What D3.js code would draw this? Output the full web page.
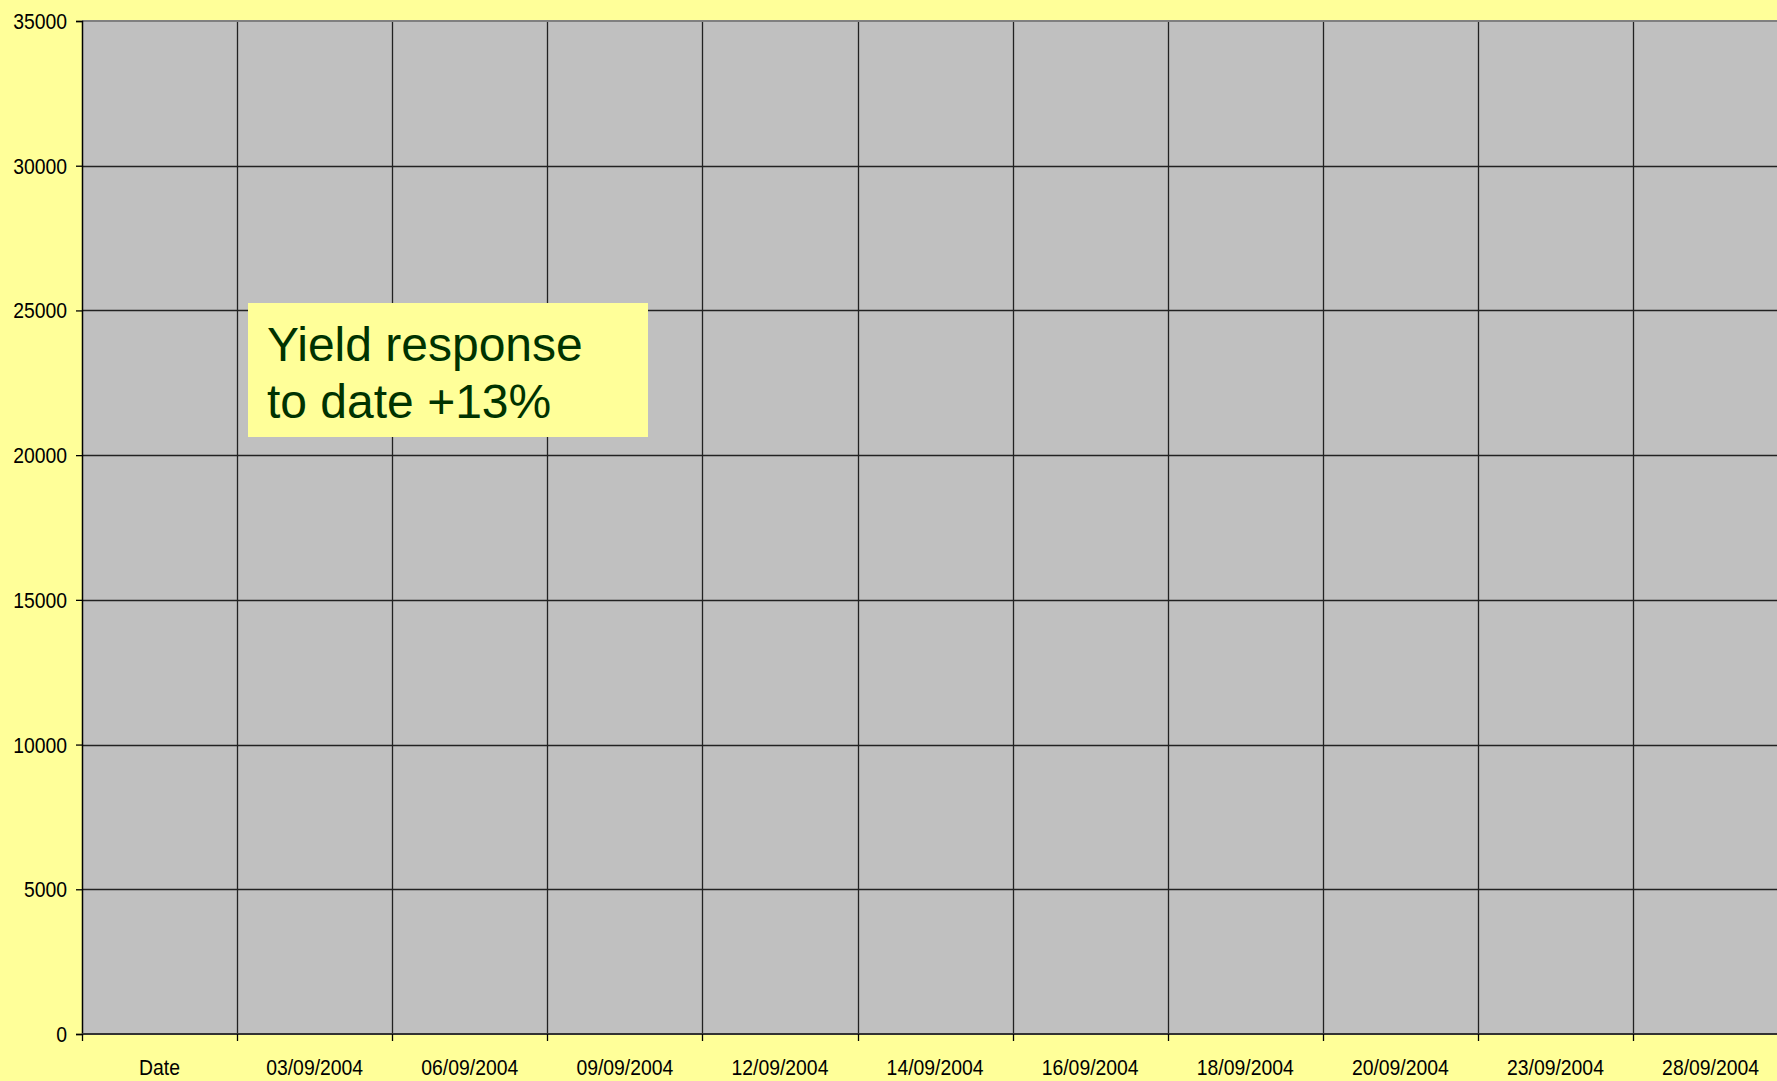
<!DOCTYPE html>
<html>
<head>
<meta charset="utf-8">
<script src="https://cdn.jsdelivr.net/npm/d3@7"></script>
<style>
  html, body { margin: 0; padding: 0; background: #ffff99; overflow: hidden; }
  svg { display: block; }
</style>
</head>
<body>
<div class="chart"></div>
<script>
var categories = ["Date","03/09/2004","06/09/2004","09/09/2004","12/09/2004","14/09/2004",
                  "16/09/2004","18/09/2004","20/09/2004","23/09/2004","28/09/2004"];
var yTicks = [0,5000,10000,15000,20000,25000,30000,35000];
var yieldValues = []; // no values plotted in the source chart
var noteLines = ["Yield response","to date +13%"];

var W = 1777, H = 1081;
var plotLeft = 82, plotTop = 21, plotBottom = 1034, colW = 155.1;

var svg = d3.select(".chart").append("svg")
  .attr("width", W).attr("height", H);

svg.append("rect").attr("width", W).attr("height", H).attr("fill", "#ffff99");

var x = d3.scaleBand()
  .domain(categories)
  .range([plotLeft, plotLeft + colW*categories.length]);
var y = d3.scaleLinear()
  .domain([0, 35000])
  .range([plotBottom, plotTop]);

// plot area
svg.append("rect")
  .attr("x", plotLeft).attr("y", plotTop)
  .attr("width", x.range()[1]-plotLeft).attr("height", plotBottom-plotTop)
  .attr("fill", "#c0c0c0");

// horizontal gridlines
svg.append("g").selectAll("line").data(yTicks.slice(1,-1)).enter().append("line")
  .attr("x1", plotLeft).attr("x2", x.range()[1])
  .attr("y1", function(d){ return Math.round(y(d))+0.5; })
  .attr("y2", function(d){ return Math.round(y(d))+0.5; })
  .style("stroke","#222").style("stroke-width","1.3px");

// vertical gridlines between categories
svg.append("g").selectAll("line").data(categories.slice(1)).enter().append("line")
  .attr("x1", function(d){ return Math.round(x(d))+0.5; })
  .attr("x2", function(d){ return Math.round(x(d))+0.5; })
  .attr("y1", plotTop).attr("y2", plotBottom)
  .style("stroke","#222").style("stroke-width","1.3px");

// top border
svg.append("line")
  .attr("x1", plotLeft).attr("x2", W).attr("y1", plotTop).attr("y2", plotTop)
  .style("stroke","#808080").style("stroke-width","2px");

// y axis
var yAxis = svg.append("g")
  .attr("transform","translate("+plotLeft+",0)")
  .call(d3.axisLeft(y).tickValues(yTicks).tickSize(6).tickPadding(9).tickFormat(d3.format("d")));
yAxis.select(".domain").attr("stroke","#000").attr("stroke-width",1.5);
yAxis.selectAll(".tick line").attr("stroke","#000").attr("stroke-width",1.3);
yAxis.selectAll(".tick text")
  .attr("font-family","Liberation Sans, Arial, sans-serif")
  .attr("font-size","22px").attr("fill","#000")
  .attr("dy","0.34em")
  .each(function(){
    var t = d3.select(this), xx = +t.attr("x");
    t.attr("x", null).attr("transform","translate("+(xx)+",0) scale(0.88,1)");
  });

// x axis
svg.append("line")
  .attr("x1", plotLeft).attr("x2", W).attr("y1", plotBottom).attr("y2", plotBottom)
  .style("stroke","#333").style("stroke-width","2px");
svg.append("g").selectAll("line").data(categories).enter().append("line")
  .attr("x1", function(d){ return Math.round(x(d))+0.5; })
  .attr("x2", function(d){ return Math.round(x(d))+0.5; })
  .attr("y1", plotBottom).attr("y2", plotBottom+7)
  .style("stroke","#000").style("stroke-width","1.3px");
svg.append("g").selectAll("text").data(categories).enter().append("text")
  .attr("transform", function(d){ return "translate("+(x(d)+x.bandwidth()/2)+","+1075+") scale(0.88,1)"; })
  .attr("text-anchor","middle")
  .attr("font-family","Liberation Sans, Arial, sans-serif")
  .attr("font-size","22px").attr("fill","#000")
  .text(function(d){ return d; });

// note box
svg.append("rect")
  .attr("x", 248).attr("y", 303).attr("width", 400).attr("height", 134)
  .attr("fill","#ffff99");
svg.append("g").selectAll("text").data(noteLines).enter().append("text")
  .attr("x", 267)
  .attr("y", function(d,i){ return 361 + i*56.7; })
  .attr("font-family","Liberation Sans, Arial, sans-serif")
  .attr("font-size","48px").attr("fill","#003300")
  .text(function(d){ return d; });
</script>
</body>
</html>
